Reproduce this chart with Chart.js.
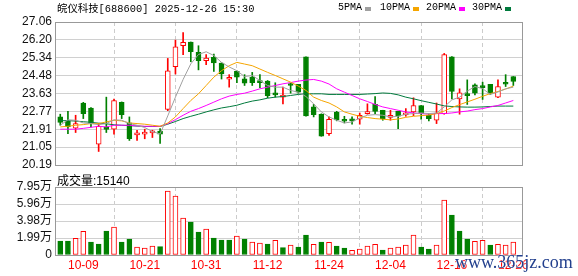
<!DOCTYPE html>
<html lang="zh-CN">
<head>
    <meta charset="UTF-8">
    <title>皖仪科技[688600] 日K线</title>
    <style>
        body {
            margin: 0;
            padding: 0;
            background: #fff;
        }

        #wrap {
            position: relative;
            width: 578px;
            height: 276px;
            overflow: hidden;
        }

        #wrap canvas {
            position: absolute;
            left: 0;
            top: 0;
        }

        .txt {
            position: absolute;
            white-space: nowrap;
            line-height: 14px;
            color: #000;
        }

        #title {
            left: 57px;
            top: 0;
            font: 10.4px 'Liberation Mono', 'Noto Sans CJK SC', monospace;
        }

        .leg {
            top: 2px;
            font: 10px 'Liberation Mono', 'Noto Sans CJK SC', monospace;
        }

        .sq {
            position: absolute;
            top: 7px;
            width: 6px;
            height: 4px;
        }

        #volLabel {
            left: 57px;
            top: 171px;
            font: 12px 'Liberation Sans', 'Noto Sans CJK SC', sans-serif;
        }

        #mark {
            left: 455px;
            top: 252px;
            font: 18px 'Liberation Serif', serif;
            color: #23408e;
            text-shadow: 0 0 2px #fff, 0 0 1px #fff;
        }
    </style>
    <script src="https://cdn.jsdelivr.net/npm/chart.js"></script>
</head>
<body>
<div id="wrap">
    <canvas id="price" width="578" height="276"></canvas>
    <canvas id="vol" width="578" height="276"></canvas>
    <div class="txt" id="title">皖仪科技[688600] 2025-12-26 15:30</div>
    <div class="txt" id="volLabel">成交量:15140</div>
    <div id="legend"></div>
    <div class="txt" id="mark">www.365jz.com</div>
</div>
<script>
    // trading days shown
    const dates = ['09-26','09-29','09-30','10-09','10-10','10-13','10-14','10-15','10-16','10-17',
                   '10-20','10-21','10-22','10-23','10-24','10-27','10-28','10-29','10-30','10-31',
                   '11-03','11-04','11-05','11-06','11-07','11-10','11-11','11-12','11-13','11-14',
                   '11-17','11-18','11-19','11-20','11-21','11-24','11-25','11-26','11-27','11-28',
                   '12-01','12-02','12-03','12-04','12-05','12-08','12-09','12-10','12-11','12-12',
                   '12-15','12-16','12-17','12-18','12-19','12-22','12-23','12-24','12-25','12-26'];
    const dateTicks = ['10-09','10-21','10-31','11-12','11-24','12-04','12-16','12-26'];

    const openP = [22.50,22.29,21.96,23.17,22.93,21.19,22.02,21.91,23.20,22.21,
                   21.64,21.67,21.73,21.82,22.86,24.91,25.92,26.09,25.60,25.20,
                   25.36,25.09,24.31,24.69,24.33,24.41,24.25,24.22,23.64,23.45,
                   24.09,24.06,25.39,22.98,22.63,21.70,22.72,22.39,22.39,22.39,
                   22.66,23.10,22.82,22.48,22.77,22.60,22.74,23.05,22.58,22.34,
                   22.66,25.39,23.36,23.61,24.04,23.94,24.06,23.45,24.09,24.44];
    const highP = [22.63,22.77,22.58,23.20,22.95,22.18,23.45,23.36,23.22,22.50,
                   21.86,21.91,21.86,21.94,25.31,26.19,26.55,26.10,25.92,25.49,
                   25.52,25.10,24.53,24.72,24.53,24.64,24.53,24.25,24.14,23.93,
                   24.12,24.06,25.39,23.10,22.65,22.50,22.77,22.53,22.50,22.69,
                   23.13,23.48,22.82,22.82,22.77,22.90,23.42,23.05,22.66,23.17,
                   25.55,25.40,23.85,24.28,24.09,24.17,24.06,24.28,24.53,24.44];
    const lowP = [22.10,21.70,21.75,22.42,22.02,20.84,21.75,21.67,22.42,21.37,
                  21.37,21.45,21.51,21.23,22.80,24.56,25.49,25.15,24.76,25.01,
                  24.69,24.32,23.93,24.14,24.01,24.01,23.90,23.42,23.45,23.13,
                  23.64,23.64,22.53,22.50,21.57,21.61,22.31,22.21,22.15,22.15,
                  22.63,22.66,22.34,22.34,21.94,22.53,22.56,22.39,22.31,22.18,
                  22.63,23.37,22.63,23.10,23.56,23.34,23.58,23.42,23.96,24.01];
    const closeP = [22.23,22.02,22.18,22.66,22.18,22.05,21.90,23.29,22.61,21.46,
                    21.66,21.69,21.76,21.67,24.72,25.87,26.08,25.63,25.20,25.33,
                    25.09,24.56,24.33,24.41,24.12,24.14,24.15,23.52,23.56,23.52,
                    24.01,23.69,22.55,22.61,21.58,22.39,22.36,22.29,22.31,22.58,
                    22.69,22.77,22.42,22.50,22.53,22.62,23.05,22.66,22.42,22.69,
                    25.49,23.72,23.66,23.52,23.64,23.91,23.64,23.96,24.07,24.20];

    const volume = [16400,16400,19500,27700,15200,12900,28100,32700,15200,18700,
                    9400,8200,10500,9700,74800,69000,43300,38600,26900,30400,
                    19900,17500,17500,22200,18700,15200,14000,12900,17100,8600,
                    11700,9400,23400,12500,15200,14800,10500,8200,5500,7000,
                    10500,12500,5800,8200,9400,11700,23400,9400,7000,11700,
                    64300,46800,28100,18700,16000,17100,11700,12500,11700,15140];

    const ma5 = [22.10,22.36,22.34,22.21,22.18,22.13,22.18,22.36,22.34,22.18,
                 22.10,21.99,21.80,21.68,22.55,23.45,24.30,25.05,25.50,25.63,
                 25.45,25.12,24.90,24.72,24.44,24.49,24.25,24.01,23.93,23.93,
                 23.77,23.69,23.48,23.13,22.74,22.50,22.34,22.21,22.26,22.45,
                 22.58,22.61,22.58,22.50,22.53,22.63,22.66,22.69,22.66,22.69,
                 22.98,23.32,23.45,23.74,23.96,23.86,23.58,23.70,23.85,23.93];
    const ma10 = [22.02,22.05,22.10,22.13,22.18,22.18,22.26,22.34,22.31,22.21,
                  22.18,22.15,22.10,22.05,22.21,22.50,22.90,23.29,23.61,24.01,
                  24.41,24.72,24.96,25.12,25.04,24.96,24.80,24.64,24.49,24.33,
                  24.17,23.98,23.77,23.45,23.29,23.17,22.98,22.74,22.63,22.53,
                  22.47,22.42,22.39,22.36,22.40,22.48,22.53,22.56,22.59,22.66,
                  22.78,22.95,23.09,23.22,23.35,23.49,23.62,23.72,23.84,23.98];
    const ma20 = [21.91,21.91,21.91,21.95,22.00,22.05,22.02,22.10,22.10,22.10,
                  22.07,22.05,22.05,22.05,22.18,22.37,22.58,22.77,22.90,23.05,
                  23.21,23.37,23.50,23.58,23.64,23.74,23.85,23.93,24.01,24.09,
                  24.15,24.22,24.27,24.30,24.22,24.08,23.85,23.69,23.53,23.37,
                  23.24,23.10,22.98,22.90,22.82,22.74,22.69,22.66,22.63,22.66,
                  22.66,22.69,22.74,22.78,22.85,22.90,22.98,23.05,23.17,23.29];
    const ma30 = [22.32,22.32,22.30,22.27,22.24,22.20,22.17,22.12,22.10,22.08,
                  22.06,22.04,22.04,22.04,22.15,22.28,22.42,22.53,22.63,22.74,
                  22.84,22.93,22.99,23.06,23.17,23.26,23.32,23.40,23.45,23.48,
                  23.53,23.58,23.61,23.61,23.61,23.58,23.58,23.58,23.58,23.58,
                  23.60,23.62,23.65,23.63,23.56,23.45,23.37,23.28,23.20,23.12,
                  23.03,23.00,22.98,22.97,22.97,22.98,23.00,23.02,23.02,23.02];

    const priceTicks = [20.19, 21.05, 21.91, 22.77, 23.63, 24.48, 25.34, 26.20, 27.06];
    const volTicks = [0, 19875, 39750, 59625, 79500];
    const volTickLabels = ['0', '1.99万', '3.98万', '5.96万', '7.95万'];

    const maNames = ['5PMA', '10PMA', '20PMA', '30PMA'];

    // colours / layout
    const UP = '#ff0000', DOWN = '#008000';
    const maColors = ['#a0a0a0', '#f5a500', '#ff00ff', '#007a3d'];
    const FONT = "'Liberation Sans', 'Noto Sans CJK SC', sans-serif";
    const X_MIN = -0.685, X_MAX = 60.13;
    const AREA = { left: 55, right: 522 };

    const dateTickIdx = dateTicks.map(d => dates.indexOf(d));
    const isUp = dates.map((d, i) => closeP[i] >= openP[i]);
    const volUp = dates.map((d, i) => i === 0 ? isUp[0] : closeP[i] >= closeP[i - 1]);

    // legend
    const legendPos = [[338, 365], [380, 413], [426, 459], [472, 505]];
    const legend = document.getElementById('legend');
    maNames.forEach((name, k) => {
        const t = document.createElement('div');
        t.className = 'txt leg';
        t.style.left = legendPos[k][0] + 'px';
        t.textContent = name;
        legend.appendChild(t);
        const s = document.createElement('div');
        s.className = 'sq';
        s.style.left = legendPos[k][1] + 'px';
        s.style.background = maColors[k];
        legend.appendChild(s);
    });

    const framePlugin = {
        id: 'frame',
        afterDraw(chart) {
            const { ctx, chartArea: a } = chart;
            ctx.save();
            ctx.strokeStyle = '#999';
            ctx.lineWidth = 1;
            ctx.strokeRect(Math.round(a.left) + 0.5, Math.round(a.top) + 0.5,
                           Math.round(a.right - a.left), Math.round(a.bottom - a.top));
            ctx.restore();
        }
    };

    function xScale(showLabels) {
        return {
            type: 'linear',
            min: X_MIN,
            max: X_MAX,
            offset: false,
            afterBuildTicks: s => { s.ticks = dateTickIdx.map(v => ({ value: v })); },
            afterFit: s => { s.height = showLabels ? 21 : 0; },
            ticks: {
                display: showLabels,
                autoSkip: false,
                maxRotation: 0,
                padding: 3,
                color: '#ff0000',
                font: { family: FONT, size: 12 },
                callback: v => dates[v]
            },
            grid: { color: '#cccccc', drawTicks: false },
            border: { display: false, dash: [4, 3] }
        };
    }

    function yScale(ticks, labelFn) {
        return {
            min: ticks[0],
            max: ticks[ticks.length - 1],
            afterBuildTicks: s => { s.ticks = ticks.map(v => ({ value: v })); },
            afterFit: s => { s.width = AREA.left; },
            ticks: {
                autoSkip: false,
                padding: 3,
                color: '#111',
                font: { family: FONT, size: 12 },
                callback: labelFn
            },
            grid: { color: '#d0d0d0', drawTicks: false },
            border: { display: false }
        };
    }

    // price chart: candles + moving averages
    const wickData = dates.map((d, i) => ({ x: i, y: [lowP[i], highP[i]] }));
    const bodyData = dates.map((d, i) => ({ x: i, y: [openP[i], closeP[i]] }));

    const maSets = [ma5, ma10, ma20, ma30].map((arr, k) => ({
        type: 'line',
        label: maNames[k],
        data: arr.map((v, i) => ({ x: i, y: v })),
        borderColor: maColors[k],
        borderWidth: 1,
        pointRadius: 0,
        fill: false,
        tension: 0,
        order: 0
    }));

    new Chart(document.getElementById('price'), {
        type: 'bar',
        data: {
            datasets: [
                ...maSets,
                {
                    label: 'body',
                    data: bodyData,
                    backgroundColor: isUp.map(u => u ? '#ffffff' : DOWN),
                    borderColor: isUp.map(u => u ? UP : DOWN),
                    borderWidth: 1,
                    borderSkipped: false,
                    barThickness: 5,
                    minBarLength: 2,
                    grouped: false,
                    order: 1
                },
                {
                    label: 'wick',
                    data: wickData,
                    backgroundColor: isUp.map(u => u ? UP : DOWN),
                    barThickness: 1,
                    grouped: false,
                    order: 2
                }
            ]
        },
        options: {
            responsive: false,
            animation: false,
            layout: { padding: { top: 22, right: 578 - AREA.right, bottom: 276 - 165, left: 0 } },
            plugins: { legend: { display: false }, tooltip: { enabled: false } },
            scales: {
                x: xScale(false),
                y: yScale(priceTicks, v => v.toFixed(2))
            }
        },
        plugins: [framePlugin]
    });

    // volume chart
    new Chart(document.getElementById('vol'), {
        type: 'bar',
        data: {
            datasets: [{
                label: 'volume',
                data: volume.map((v, i) => ({ x: i, y: v })),
                backgroundColor: volUp.map(u => u ? '#ffffff' : DOWN),
                borderColor: volUp.map(u => u ? UP : DOWN),
                borderWidth: 1,
                borderSkipped: false,
                barThickness: 5
            }]
        },
        options: {
            responsive: false,
            animation: false,
            layout: { padding: { top: 187, right: 578 - AREA.right, bottom: 0, left: 0 } },
            plugins: { legend: { display: false }, tooltip: { enabled: false } },
            scales: {
                x: xScale(true),
                y: yScale(volTicks, (v, i) => volTickLabels[i])
            }
        },
        plugins: [framePlugin]
    });
</script>
</body>
</html>
